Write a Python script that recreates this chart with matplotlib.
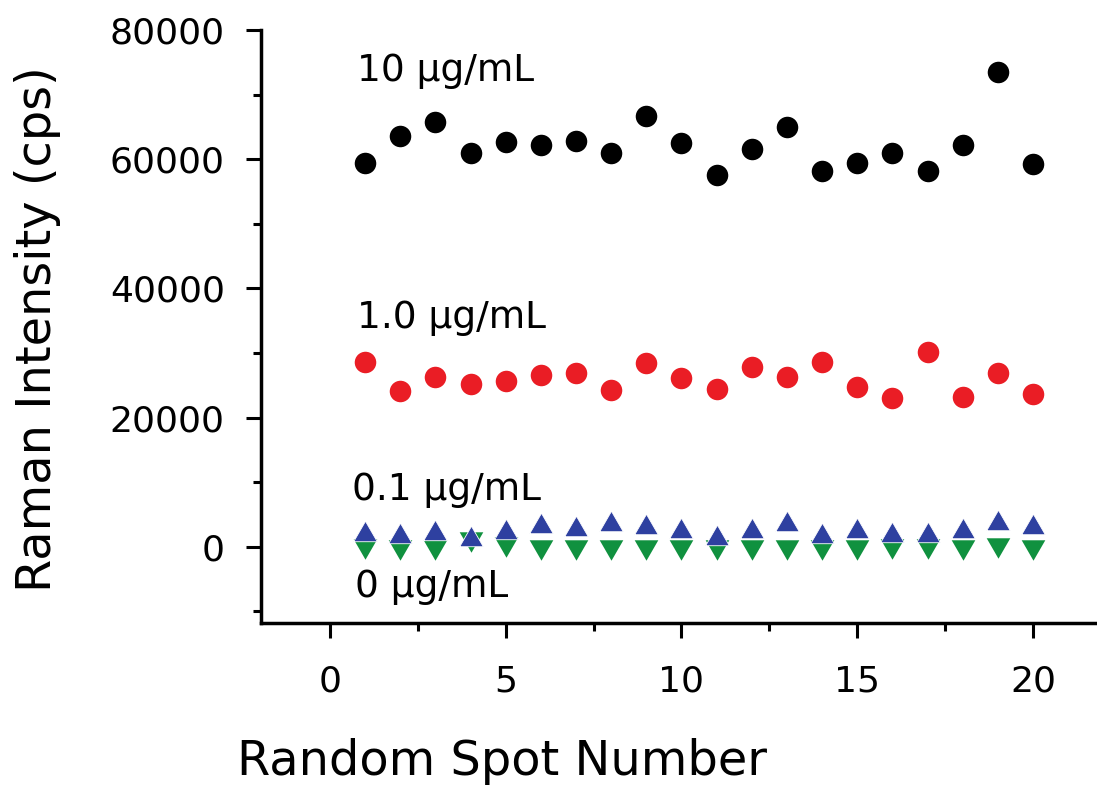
import matplotlib
matplotlib.use("Agg")
import matplotlib.pyplot as plt
from matplotlib.ticker import MultipleLocator
from matplotlib.path import Path

# spot numbers 1..20
spots = list(range(1, 21))

# Raman intensity (cps)
c10 = [59440, 63620, 65790, 60990, 62600, 62180, 62850, 60990, 66670, 62440,
       57540, 61560, 64920, 58110, 59350, 60990, 58110, 62180, 73530, 59290]
c1 = [28640, 24150, 26320, 25190, 25650, 26580, 26840, 24260, 28390, 26070,
      24410, 27860, 26320, 28640, 24770, 22970, 30090, 23130, 26840, 23590]
c01 = [2400, 2150, 2660, 1630, 2770, 3700, 3170, 3950, 3540, 2920,
       1890, 2920, 4060, 2150, 2920, 2250, 2250, 2920, 4210, 3590]
c0 = [-330, -480, -480, 700, -70, -480, -480, -480, -480, -480,
      -480, -480, -480, -480, -480, -330, -330, -480, -170, -480]

labels = ["10 µg/mL", "1.0 µg/mL", "0.1 µg/mL", "0 µg/mL"]
label_pos = [(0.77, 72090), (0.77, 33850), (0.63, 7230), (0.71, -7790)]

# equilateral triangles (matplotlib's ^ and v are as tall as wide)
tri_up = Path([(-1, -0.866), (1, -0.866), (0, 0.866), (-1, -0.866)])
tri_dn = Path([(-1, 0.866), (1, 0.866), (0, -0.866), (-1, 0.866)])

plt.rcParams['font.family'] = ['DejaVu Sans']

fig = plt.figure(figsize=(10.97, 7.87), dpi=100)
ax = fig.add_axes([0.2379, 0.2084, 0.7621, 0.7535])

ax.plot(spots, c0, marker=tri_dn, ls='none', color='#10913f', ms=17, mec='none', zorder=2)
ax.plot(spots, c01, marker=tri_up, ls='none', color='#2e40a0', ms=17, mec='white', mew=0.6, zorder=3)
ax.plot(spots, c1, marker='o', ls='none', color='#ea1d25', ms=15.5, mec='none', zorder=3)
ax.plot(spots, c10, marker='o', ls='none', color='black', ms=15.5, mec='none', zorder=3)

for txt, (x, y) in zip(labels, label_pos):
    ax.text(x, y, txt, fontsize=27, ha='left', va='baseline')

ax.set_xlim(-1.96, 21.82)
ax.set_ylim(-11800, 80000)
ax.xaxis.set_major_locator(MultipleLocator(5))
ax.xaxis.set_minor_locator(MultipleLocator(2.5))
ax.yaxis.set_major_locator(MultipleLocator(20000))
ax.yaxis.set_minor_locator(MultipleLocator(10000))

for s in ['top', 'right']:
    ax.spines[s].set_visible(False)
for s in ['left', 'bottom']:
    ax.spines[s].set_linewidth(2.5)

ax.tick_params(which='major', direction='out', length=11, width=2.2, labelsize=26)
ax.tick_params(which='minor', direction='out', length=6, width=2.2)
ax.tick_params(axis='y', which='major', pad=15)
ax.tick_params(axis='x', which='major', pad=19)

ax.set_xlabel("Random Spot Number", fontsize=34.5)
ax.xaxis.label.set_va('baseline')
ax.xaxis.set_label_coords(0.288, -0.2563)
ax.set_ylabel("Raman Intensity (cps)", fontsize=34.5)
ax.yaxis.label.set_va('center')
ax.yaxis.set_label_coords(-0.267, 0.496)

fig.savefig("out.png", dpi=100)
